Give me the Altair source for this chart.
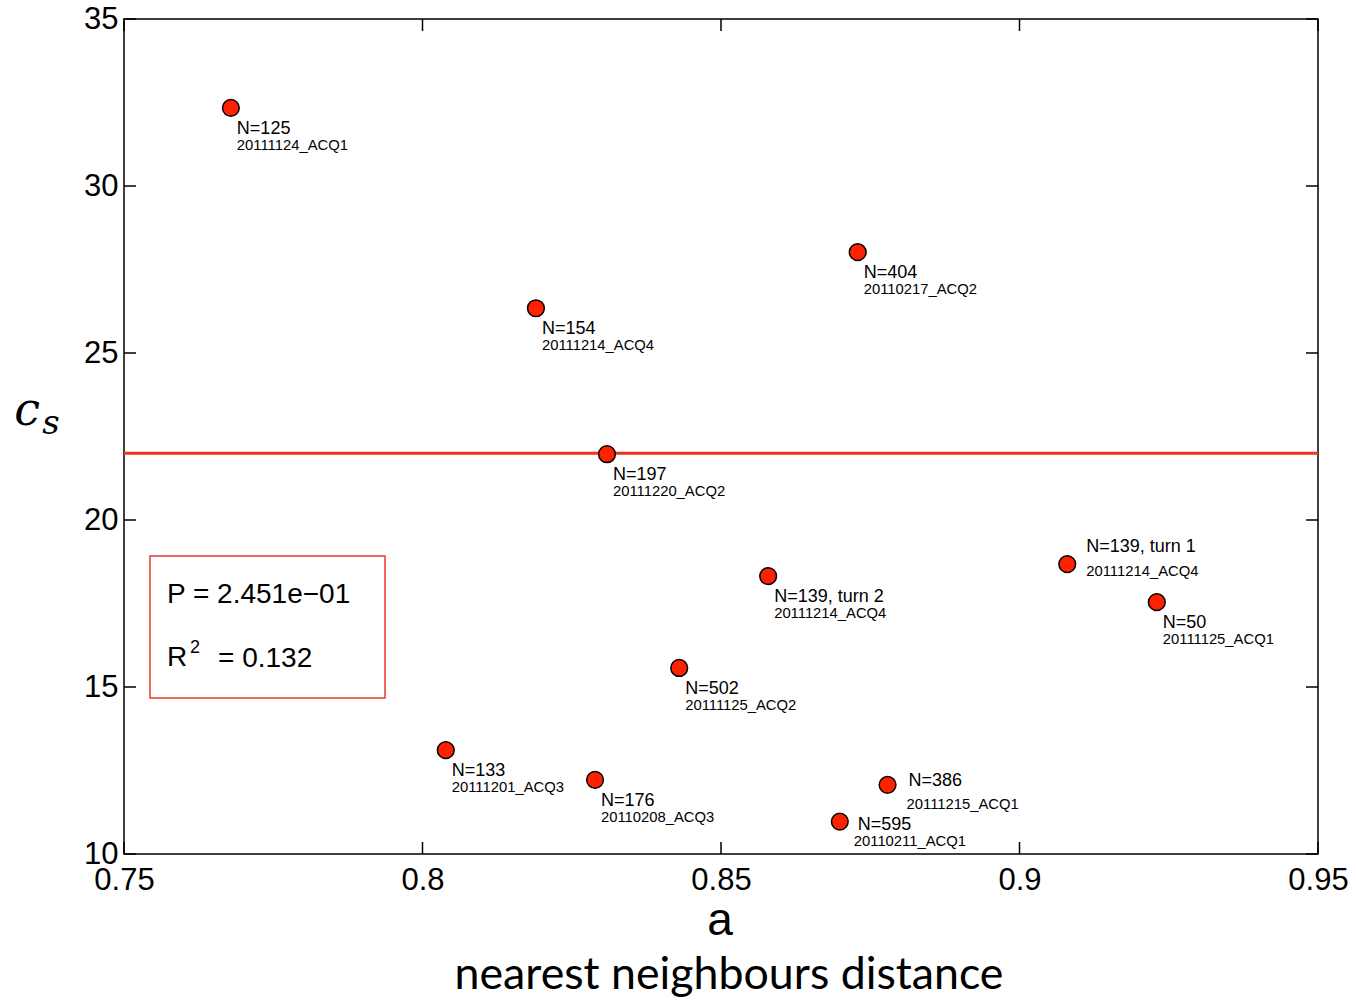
import altair as alt
import pandas as pd

# measured runs: nearest-neighbour distance a vs. c_s
a_values = [0.7679, 0.8190, 0.8729, 0.8309, 0.8579, 0.9080,
            0.9230, 0.8430, 0.8039, 0.8289, 0.8779, 0.8699]
cs_values = [32.34, 26.34, 28.02, 21.97, 18.32, 18.68,
             17.54, 15.57, 13.11, 12.22, 12.07, 10.97]
n_labels = ["N=125", "N=154", "N=404", "N=197", "N=139, turn 2", "N=139, turn 1",
            "N=50", "N=502", "N=133", "N=176", "N=386", "N=595"]
acq_labels = ["20111124_ACQ1", "20111214_ACQ4", "20110217_ACQ2", "20111220_ACQ2",
              "20111214_ACQ4", "20111214_ACQ4", "20111125_ACQ1", "20111125_ACQ2",
              "20111201_ACQ3", "20110208_ACQ3", "20111215_ACQ1", "20110211_ACQ1"]

cs_level = [22.0]
x_ticks = [0.75, 0.8, 0.85, 0.9, 0.95]
y_ticks = [10, 15, 20, 25, 30, 35]
p_text = "P = 2.451e\u221201"
r2_value = "= 0.132"

# label placement (pixel offsets from the marker: N-line dx, dy; acq-line dx, dy)
default_place = (6, 21, 6, 38)
special_place = {
    "N=139, turn 1": (19, -17, 19, 8),
    "N=386": (21, -4, 19, 20),
    "N=595": (18, 3, 14, 20),
}

W, H = 1194, 835
RED = "#ff2200"
FONT = "Liberation Sans"

df = pd.DataFrame({"a": a_values, "cs": cs_values, "n": n_labels, "acq": acq_labels})

x_scale = alt.Scale(domain=[0.75, 0.95], nice=False, zero=False)
y_scale = alt.Scale(domain=[10, 35], nice=False, zero=False)

base = alt.Chart(df)

points = base.mark_point(
    shape="circle", filled=True, size=280, fill=RED, stroke="black",
    strokeWidth=1.5, opacity=1
).encode(
    x=alt.X("a:Q", scale=x_scale,
            axis=alt.Axis(values=x_ticks, format=".2~f", title=None, grid=False,
                          ticks=False, tickSize=0, domain=False, labelFontSize=31,
                          labelFont=FONT, labelPadding=11, labelColor="black",
                          labelFlush=False, labelOverlap=False, labelBound=False)),
    y=alt.Y("cs:Q", scale=y_scale,
            axis=alt.Axis(values=y_ticks, title=None, grid=False, ticks=False,
                          tickSize=0, domain=False, labelFontSize=31,
                          labelFont=FONT, labelPadding=6, labelColor="black",
                          labelFlush=False, labelOverlap=False, labelBound=False)),
)

level_line = alt.Chart(pd.DataFrame({"cs": cs_level})).mark_rule(
    color="#f0321e", strokeWidth=3
).encode(y=alt.Y("cs:Q", scale=y_scale))

# inward ticks on all four sides of the frame
xt = pd.DataFrame({"a": x_ticks})
yt = pd.DataFrame({"cs": y_ticks})
tick_style = dict(color="black", strokeWidth=1.5)
ticks_bottom = alt.Chart(xt).mark_rule(**tick_style).encode(
    x=alt.X("a:Q", scale=x_scale), y=alt.value(H), y2=alt.value(H - 12))
ticks_top = alt.Chart(xt).mark_rule(**tick_style).encode(
    x=alt.X("a:Q", scale=x_scale), y=alt.value(0), y2=alt.value(12))
ticks_left = alt.Chart(yt).mark_rule(**tick_style).encode(
    y=alt.Y("cs:Q", scale=y_scale), x=alt.value(0), x2=alt.value(12))
ticks_right = alt.Chart(yt).mark_rule(**tick_style).encode(
    y=alt.Y("cs:Q", scale=y_scale), x=alt.value(W), x2=alt.value(W - 12))

# point annotations
label_layers = []
groups = {}
for name in n_labels:
    groups.setdefault(special_place.get(name, default_place), []).append(name)
for (ndx, ndy, adx, ady), names in groups.items():
    sub = base.transform_filter(alt.FieldOneOfPredicate(field="n", oneOf=names))
    label_layers.append(sub.mark_text(
        align="left", baseline="middle", dx=ndx, dy=ndy, fontSize=18,
        font=FONT, color="black"
    ).encode(x=alt.X("a:Q", scale=x_scale), y=alt.Y("cs:Q", scale=y_scale), text="n:N"))
    label_layers.append(sub.mark_text(
        align="left", baseline="middle", dx=adx, dy=ady, fontSize=14.8,
        font=FONT, color="black"
    ).encode(x=alt.X("a:Q", scale=x_scale), y=alt.Y("cs:Q", scale=y_scale), text="acq:N"))

# statistics box
stat_box = alt.Chart(pd.DataFrame({"k": [0]})).mark_rect(
    fill="white", fillOpacity=0, stroke="#e8372a", strokeWidth=1.5
).encode(x=alt.value(26), x2=alt.value(261), y=alt.value(537), y2=alt.value(679))


def text_at(txt, x, y, size, **kw):
    return alt.Chart(pd.DataFrame({"t": [txt]})).mark_text(
        fontSize=size, color="black", **kw
    ).encode(text="t:N", x=alt.value(x), y=alt.value(y))


p_line = text_at(p_text, 43, 576, 28, align="left", baseline="middle", font=FONT)
r_line = text_at("R", 43, 639, 28, align="left", baseline="middle", font=FONT)
r_sup = text_at("2", 66, 629, 18, align="left", baseline="middle", font=FONT)
r_val = text_at(r2_value, 94, 640, 28, align="left", baseline="middle", font=FONT)

# axis titles
y_title_c = text_at("c", -97, 392, 46, align="center", baseline="middle",
                    font="DejaVu Serif", fontStyle="italic")
y_title_s = text_at("s", -73, 405, 34, align="center", baseline="middle",
                    font="DejaVu Serif", fontStyle="italic")
x_title = text_at("a", 596, 902, 46, align="center", baseline="middle", font=FONT)
x_caption = text_at("nearest neighbours distance", 605, 957, 44.7,
                    align="center", baseline="middle", font="Lato")

chart = alt.layer(
    level_line, ticks_bottom, ticks_top, ticks_left, ticks_right,
    points, *label_layers, stat_box, p_line, r_line, r_sup, r_val,
    y_title_c, y_title_s, x_title, x_caption,
).properties(
    width=W, height=H,
    autosize=alt.AutoSizeParams(type="none"),
    padding={"left": 124, "top": 19, "right": 38, "bottom": 149},
    background="white",
).configure_view(
    stroke="black", strokeWidth=1.5
)

chart.save("out.html", embed_options={"renderer": "svg", "actions": False})
